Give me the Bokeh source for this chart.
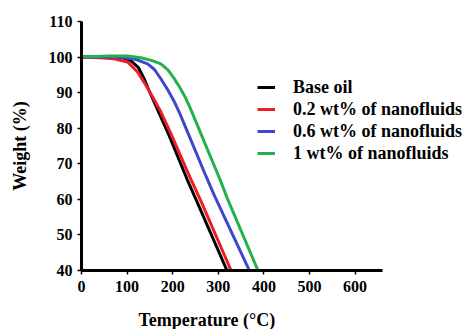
from bokeh.plotting import figure
from bokeh.models import Range1d, FixedTicker, Legend, LegendItem, LinearAxis, Label
from bokeh.embed import file_html
from bokeh.resources import INLINE

# Data
base_t = [0, 60, 90, 108, 125, 137, 148, 192, 232, 251, 319]
base_w = [100, 100, 99.8, 99, 97, 94, 90.6, 78, 65.5, 60, 40]

c02_t = [0, 50, 71, 101, 123, 145, 174, 196, 241, 262, 328]
c02_w = [100, 99.7, 99.5, 98.6, 95.8, 91.3, 84.6, 78.5, 65.3, 59.5, 40]

c06_t = [0, 80, 93, 120, 145, 160, 174, 190, 203, 216, 229, 273, 291, 368]
c06_w = [100, 100, 99.8, 99.3, 98.1, 96.5, 93.9, 90.6, 87.6, 84.0, 80.0, 66.5, 61.2, 40]

c1_t = [0, 60, 100, 130, 155, 174, 190, 203, 215, 228, 240, 262, 304, 320, 387]
c1_w = [100, 100.3, 100.3, 99.8, 99, 98.1, 96.3, 94.0, 91.6, 88.6, 85.2, 78.4, 65.5, 60.2, 40]

labels = ["Base oil", "0.2 wt% of nanofluids", "0.6 wt% of nanofluids", "1 wt% of nanofluids"]
colors = ["#000000", "#ee1c25", "#3f48cc", "#22b14c"]
x_ticks = [0, 100, 200, 300, 400, 500, 600]
y_ticks = [40, 50, 60, 70, 80, 90, 100, 110]
x_min, x_axis_end = 0, 660
y_min, y_max = 40, 110

FONT = "Liberation Serif"

# The plotting frame covers the whole canvas so that no text is clipped;
# the axes sit at fixed data locations and are limited with bounds.
p = figure(width=475, height=329, output_backend="svg", toolbar_location=None,
           x_range=Range1d(-177.6, 864), y_range=Range1d(23.41, 115.9),
           x_axis_location=None, y_axis_location=None,
           min_border_left=0, min_border_right=0, min_border_top=0, min_border_bottom=0)
p.outline_line_color = None
p.xgrid.visible = False
p.ygrid.visible = False
p.background_fill_color = "white"
p.border_fill_color = "white"

series = [(base_t, base_w), (c02_t, c02_w), (c06_t, c06_w), (c1_t, c1_w)]
renderers = []
for (t, w), col in zip(series, colors):
    r = p.line(t, w, line_color=col, line_width=3)
    renderers.append(r)

xaxis = LinearAxis(bounds=(x_min, x_axis_end), ticker=FixedTicker(ticks=x_ticks), fixed_location=y_min)
yaxis = LinearAxis(bounds=(y_min, y_max), ticker=FixedTicker(ticks=y_ticks), fixed_location=x_min)
p.add_layout(xaxis, "below")
p.add_layout(yaxis, "left")

for ax in (xaxis, yaxis):
    ax.axis_line_width = 3
    ax.axis_line_color = "black"
    ax.major_tick_line_width = 1.5
    ax.major_tick_line_color = "black"
    ax.major_tick_in = 0
    ax.major_tick_out = 4
    ax.minor_tick_line_color = None
    ax.major_label_text_font = FONT
    ax.major_label_text_font_style = "bold"
    ax.major_label_text_font_size = "16px"
    ax.major_label_text_color = "black"

xaxis.major_label_standoff = 7
yaxis.major_label_standoff = 5

yaxis.axis_label = "Weight (%)"
yaxis.axis_label_text_font = FONT
yaxis.axis_label_text_font_style = "bold"
yaxis.axis_label_text_font_size = "18px"
yaxis.axis_label_text_color = "black"
yaxis.axis_label_standoff = 16

xtitle = Label(x=125, y=26.0, text="Temperature (°C)", text_align="left",
               text_baseline="alphabetic", text_font=FONT, text_font_style="bold",
               text_font_size="18px", text_color="black")
p.add_layout(xtitle)

legend = Legend(items=[LegendItem(label=l, renderers=[r]) for l, r in zip(labels, renderers)],
                location=(257, 165), padding=0, margin=0, spacing=0,
                label_height=22, glyph_height=22, glyph_width=18, label_standoff=18,
                border_line_color=None, background_fill_alpha=0,
                label_text_font=FONT, label_text_font_style="bold",
                label_text_font_size="18px", label_text_color="black")
p.add_layout(legend)

open("out.html", "w").write(file_html(p, INLINE))
